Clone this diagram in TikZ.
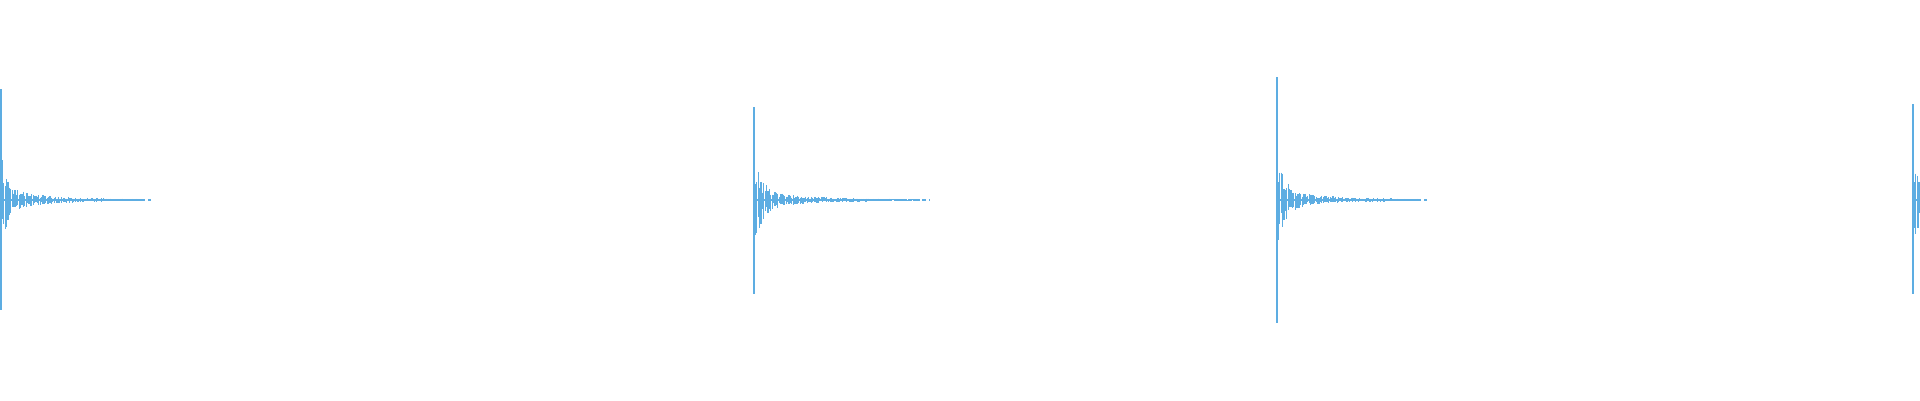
\documentclass[tikz,border=0pt]{standalone}
\definecolor{wave}{RGB}{93,173,226}
\tikzset{wv/.style={draw=wave,line width=1.3pt}, spike/.style={draw=wave,line width=1.1pt}}
\newcommand{\myburst}[4]{% x0, top, bottom, length
  \draw[spike] (#1,#2) -- (#1,#3);
  \foreach \i in {1,...,#4}{%
    \pgfmathsetmacro\t{\i*1.4}%
    \pgfmathsetmacro\au{(40*exp(-\t/7)+10*exp(-\t/45)+0.8)*(0.35+0.65*rnd)}%
    \pgfmathsetmacro\ad{(40*exp(-\t/7)+10*exp(-\t/45)+0.8)*(0.35+0.65*rnd)}%
    \draw[wv] (#1+\t,200-\au) -- (#1+\t,200+\ad);
  }%
  \draw[wv,dash pattern=on 4pt off 3pt] (#1,200) -- ++(#4*1.4+10,0);
}
\begin{document}
\begin{tikzpicture}[x=1pt,y=-1pt]
\useasboundingbox (0,0) rectangle (1920,400);
\clip (0,0) rectangle (1920,400);
\pgfmathsetseed{7}
\myburst{1}{89}{310}{100}
\myburst{754}{107}{294}{118}
\myburst{1277}{77}{323}{100}
\myburst{1913}{104}{294}{100}
\end{tikzpicture}
\end{document}
